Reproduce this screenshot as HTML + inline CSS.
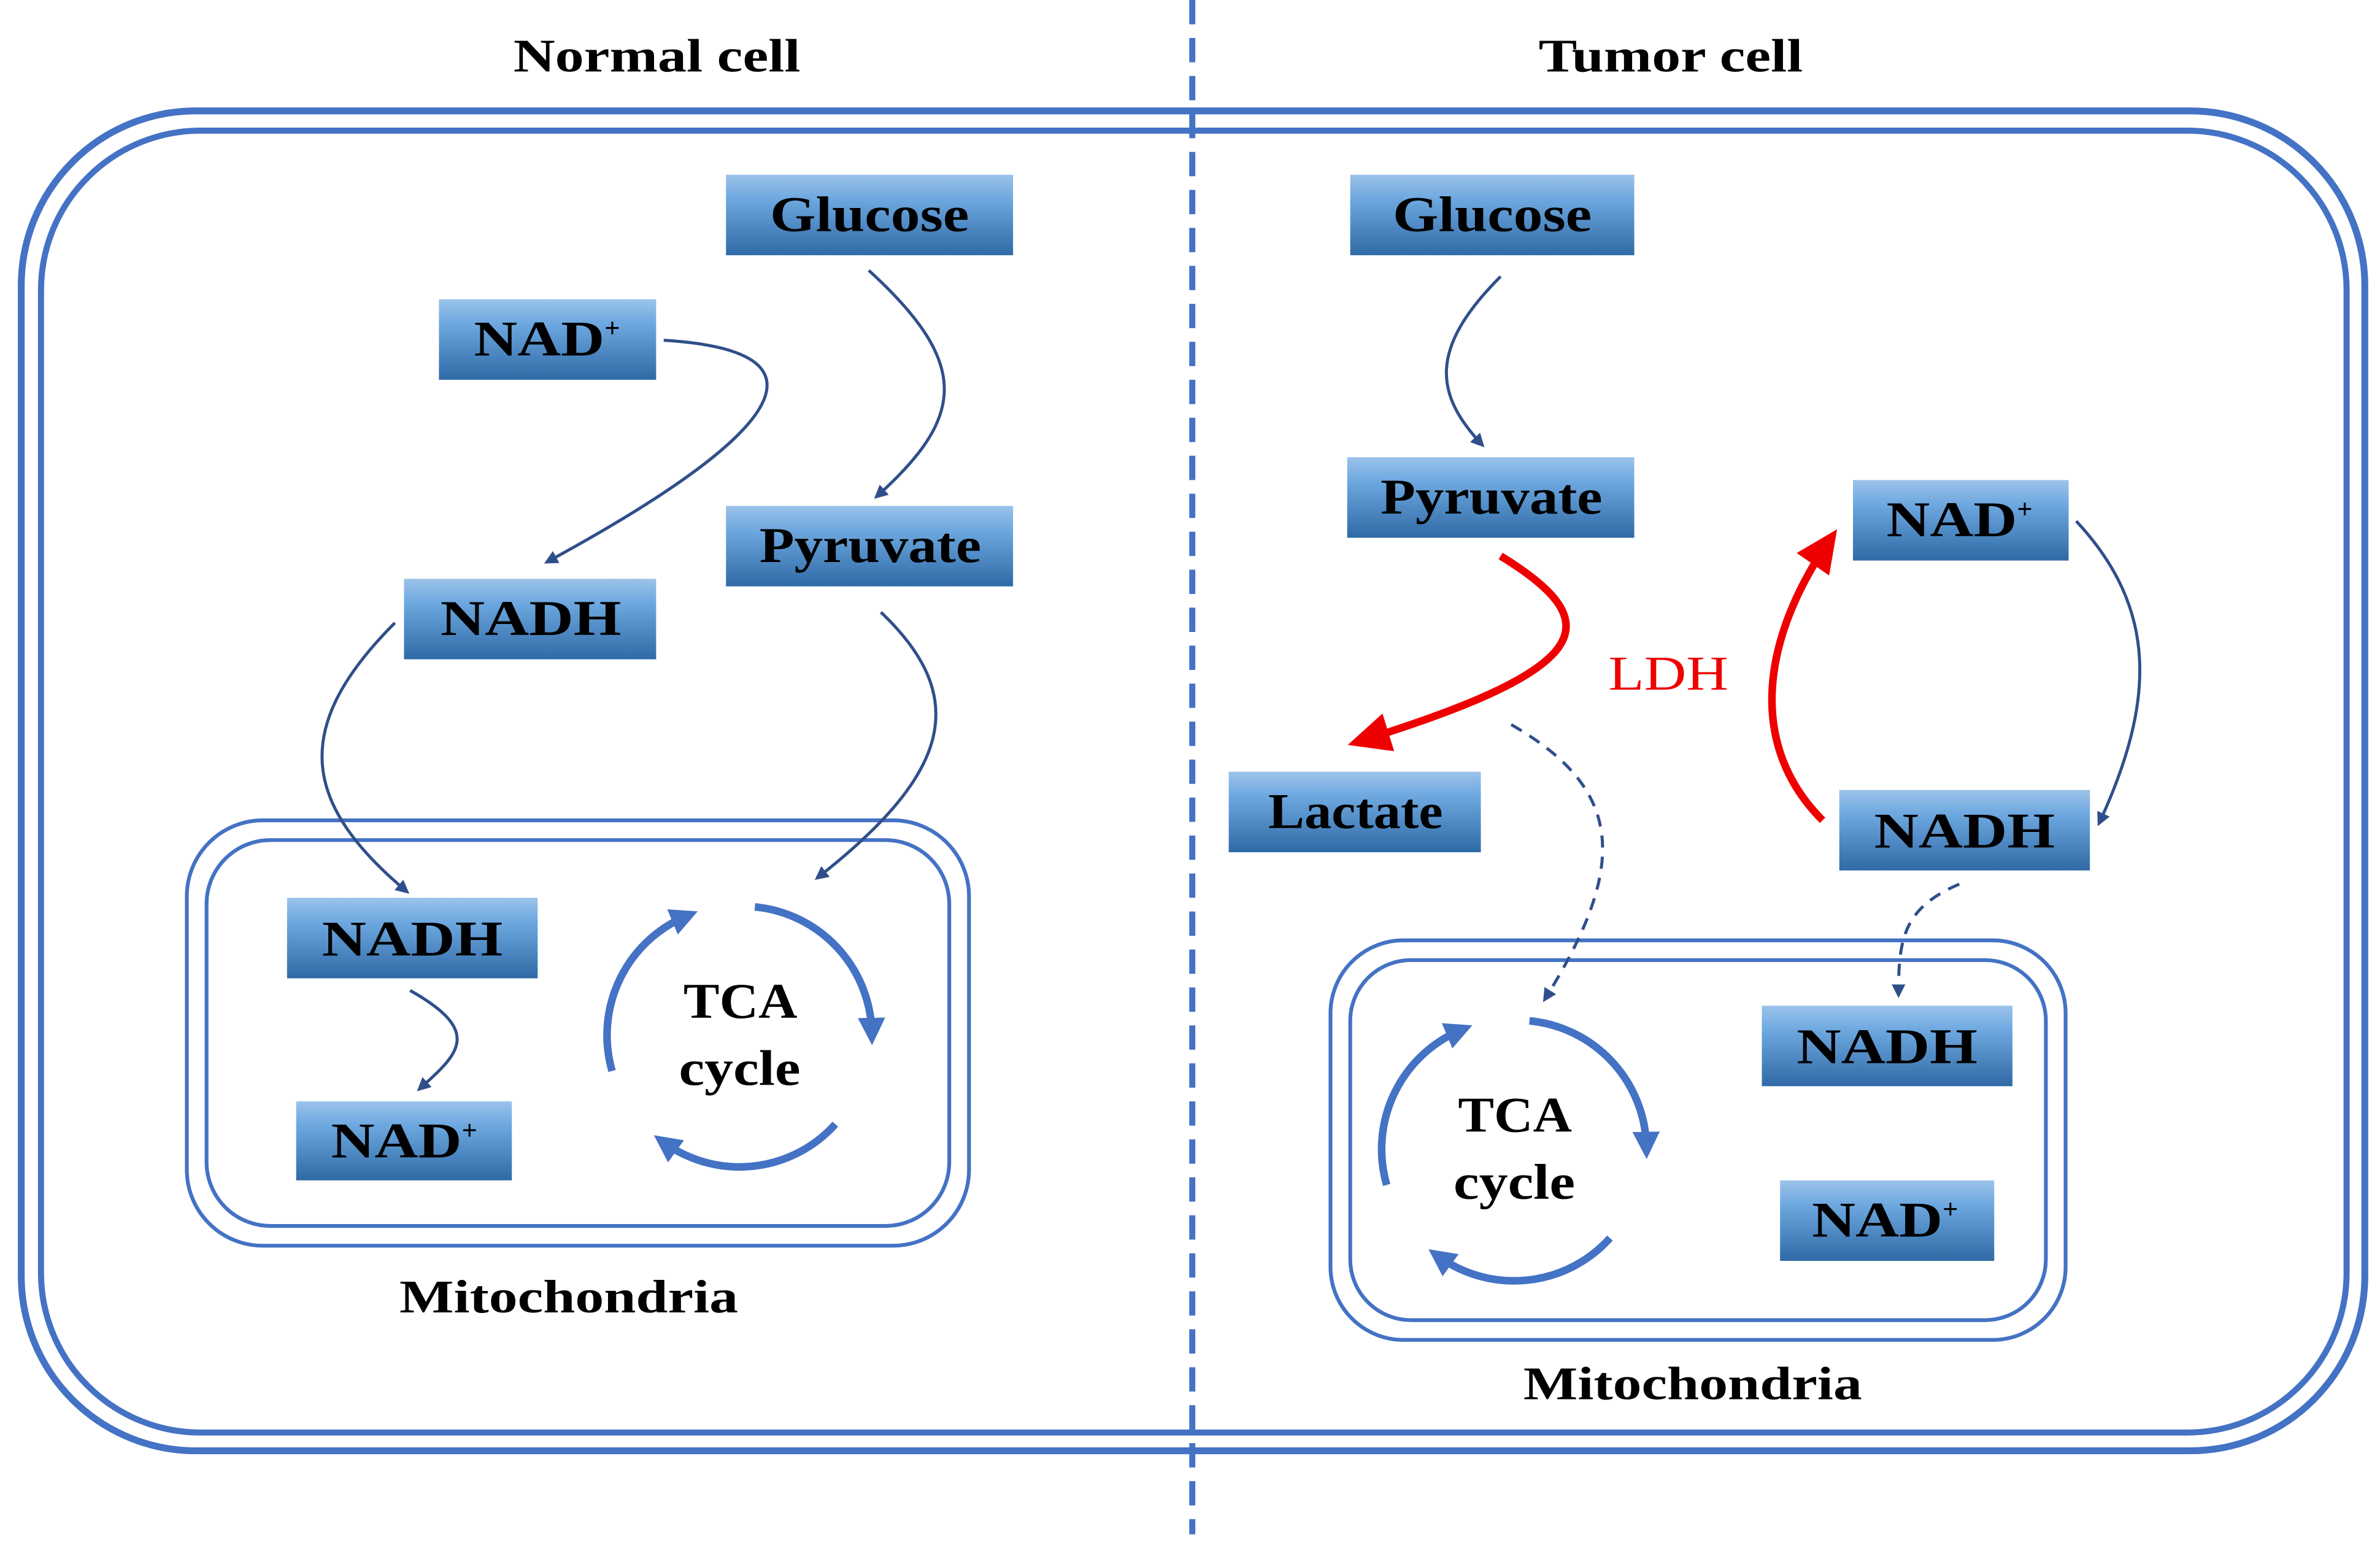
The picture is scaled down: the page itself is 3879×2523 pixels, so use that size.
<!DOCTYPE html>
<html><head><meta charset="utf-8"><style>
html,body{margin:0;padding:0;background:#fff;}
svg{display:block;}
text{font-family:"Liberation Serif",serif;font-weight:bold;}
</style></head><body>
<svg width="3879" height="2523" viewBox="0 0 1567 1019" preserveAspectRatio="none" xmlns="http://www.w3.org/2000/svg">
<defs>
<linearGradient id="g" x1="0" y1="0" x2="0" y2="1">
<stop offset="0" stop-color="#9cc3ea"/><stop offset="0.3" stop-color="#6ea8e0"/><stop offset="1" stop-color="#2f6aa6"/>
</linearGradient>
<marker id="a" markerWidth="9" markerHeight="9" refX="7" refY="4.5" orient="auto" markerUnits="userSpaceOnUse"><path d="M0,0 L9,4.5 L0,9 Z" fill="#2f4f8a"/></marker>
<marker id="t" markerWidth="18" markerHeight="18" refX="10" refY="9" orient="auto" markerUnits="userSpaceOnUse"><path d="M0,0 L18,9 L0,18 Z" fill="#4472c4"/></marker>
<marker id="r" markerWidth="28" markerHeight="26" refX="20" refY="13" orient="auto" markerUnits="userSpaceOnUse"><path d="M0,0 L28,13 L0,26 Z" fill="#ee0000"/></marker>
</defs>
<line x1="785" y1="0" x2="785" y2="1010" stroke="#4472c4" stroke-width="4" stroke-dasharray="16 9"/>
<text x="338" y="47" font-size="31" textLength="189" lengthAdjust="spacingAndGlyphs">Normal cell</text>
<text x="1013" y="47" font-size="31" textLength="174" lengthAdjust="spacingAndGlyphs">Tumor cell</text>
<rect x="14" y="73" width="1543" height="882" rx="115" fill="none" stroke="#4472c4" stroke-width="4.5"/>
<rect x="27" y="86" width="1518" height="857" rx="105" fill="none" stroke="#4472c4" stroke-width="4"/>
<rect x="123" y="540" width="515" height="280" rx="50" fill="none" stroke="#4472c4" stroke-width="2.5"/>
<rect x="136" y="553" width="489" height="254" rx="42" fill="none" stroke="#4472c4" stroke-width="2.5"/>
<rect x="876" y="619" width="484" height="263" rx="48" fill="none" stroke="#4472c4" stroke-width="2.5"/>
<rect x="889" y="632" width="458" height="237" rx="40" fill="none" stroke="#4472c4" stroke-width="2.5"/>
<text x="263" y="864" font-size="31" textLength="223" lengthAdjust="spacingAndGlyphs">Mitochondria</text>
<text x="1003" y="921" font-size="31" textLength="223" lengthAdjust="spacingAndGlyphs">Mitochondria</text>
<g fill="url(#g)">
<rect x="478" y="115" width="189" height="53"/>
<rect x="289" y="197" width="143" height="53"/>
<rect x="266" y="381" width="166" height="53"/>
<rect x="478" y="333" width="189" height="53"/>
<rect x="189" y="591" width="165" height="53"/>
<rect x="195" y="725" width="142" height="52"/>
<rect x="889" y="115" width="187" height="53"/>
<rect x="887" y="301" width="189" height="53"/>
<rect x="1220" y="316" width="142" height="53"/>
<rect x="809" y="508" width="166" height="53"/>
<rect x="1211" y="520" width="165" height="53"/>
<rect x="1160" y="662" width="165" height="53"/>
<rect x="1172" y="777" width="141" height="53"/>
</g>
<g font-size="33" fill="#000">
<text x="507" y="152" textLength="131" lengthAdjust="spacingAndGlyphs">Glucose</text>
<text x="312" y="234"><tspan textLength="86" lengthAdjust="spacingAndGlyphs">NAD</tspan><tspan font-size="18" dy="-12">+</tspan></text>
<text x="290" y="418" textLength="119" lengthAdjust="spacingAndGlyphs">NADH</text>
<text x="500" y="370" textLength="146" lengthAdjust="spacingAndGlyphs">Pyruvate</text>
<text x="212" y="629" textLength="119" lengthAdjust="spacingAndGlyphs">NADH</text>
<text x="218" y="762"><tspan textLength="86" lengthAdjust="spacingAndGlyphs">NAD</tspan><tspan font-size="18" dy="-12">+</tspan></text>
<text x="917" y="152" textLength="131" lengthAdjust="spacingAndGlyphs">Glucose</text>
<text x="909" y="338" textLength="146" lengthAdjust="spacingAndGlyphs">Pyruvate</text>
<text x="1242" y="353"><tspan textLength="86" lengthAdjust="spacingAndGlyphs">NAD</tspan><tspan font-size="18" dy="-12">+</tspan></text>
<text x="835" y="545" textLength="115" lengthAdjust="spacingAndGlyphs">Lactate</text>
<text x="1234" y="558" textLength="119" lengthAdjust="spacingAndGlyphs">NADH</text>
<text x="1183" y="700" textLength="119" lengthAdjust="spacingAndGlyphs">NADH</text>
<text x="1193" y="814"><tspan textLength="86" lengthAdjust="spacingAndGlyphs">NAD</tspan><tspan font-size="18" dy="-12">+</tspan></text>
<text x="450" y="670" textLength="75" lengthAdjust="spacingAndGlyphs">TCA</text>
<text x="447" y="714" textLength="80" lengthAdjust="spacingAndGlyphs">cycle</text>
<text x="960" y="745" textLength="75" lengthAdjust="spacingAndGlyphs">TCA</text>
<text x="957" y="789" textLength="80" lengthAdjust="spacingAndGlyphs">cycle</text>
</g>
<text x="1059" y="454" font-size="32" fill="#ee0000" style="font-weight:normal" textLength="79" lengthAdjust="spacingAndGlyphs">LDH</text>
<g fill="none" stroke="#2f4f8a" stroke-width="2" marker-end="url(#a)">
<path d="M572,178 C640,240 635,275 577,327"/>
<path d="M437,224 C540,230 535,275 360,370"/>
<path d="M260,410 C190,480 200,530 268,587"/>
<path d="M580,403 C640,460 625,510 538,578"/>
<path d="M270,652 C320,680 300,695 276,717"/>
<path d="M988,182 C940,230 945,260 976,293"/>
<path d="M1367,343 C1420,400 1420,460 1382,542"/>
<path d="M995,477 C1070,520 1072,570 1017,658" stroke-dasharray="8 6"/>
<path d="M1290,582 C1252,598 1250,620 1250,655" stroke-dasharray="8 6"/>
</g>
<g fill="none" stroke="#ee0000" stroke-width="5" marker-end="url(#r)">
<path d="M988,366 C1060,410 1050,440 895,488"/>
<path d="M1200,540 C1150,490 1160,420 1205,355"/>
</g>
<g fill="none" stroke="#4472c4" stroke-width="5" marker-end="url(#t)">
<path d="M403,705 A85,85 0 0 1 452,603"/>
<path d="M497,597 A85,85 0 0 1 574,680"/>
<path d="M550,740 A85,85 0 0 1 437,752"/>
<path d="M913,780 A85,85 0 0 1 962,678"/>
<path d="M1007,672 A85,85 0 0 1 1084,755"/>
<path d="M1060,815 A85,85 0 0 1 947,827"/>
</g>
</svg>
</body></html>
